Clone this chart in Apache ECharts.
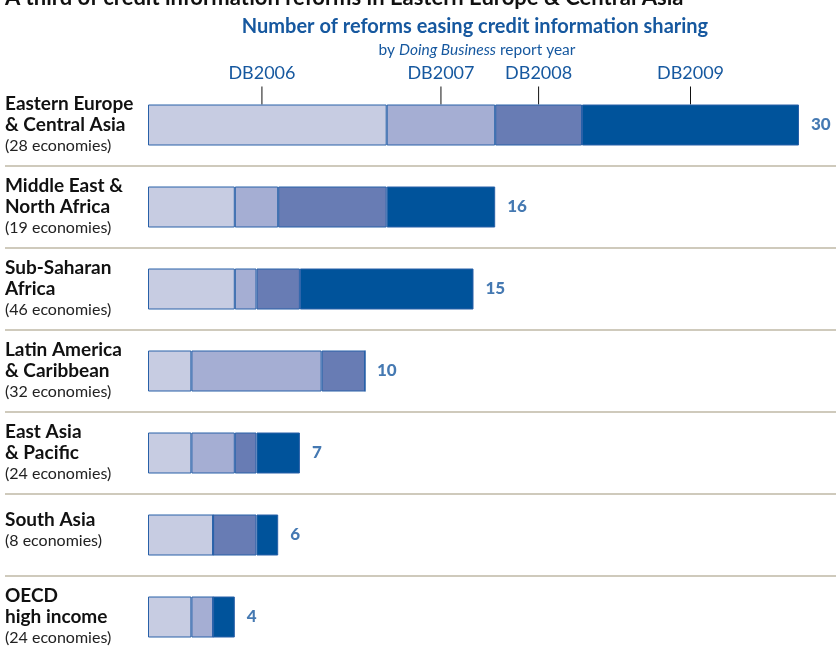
<!DOCTYPE html>
<html>
<head>
<meta charset="utf-8">
<script src="https://cdn.jsdelivr.net/npm/echarts@6/dist/echarts.min.js"></script>
<style>
  html, body { margin: 0; padding: 0; background: #fff; }
  #chart { width: 836px; height: 649px; }
</style>
</head>
<body>
<div id="chart"></div>
<script>
// regions, top to bottom
var regions = ['Eastern Europe\n& Central Asia', 'Middle East &\nNorth Africa', 'Sub-Saharan\nAfrica',
  'Latin America\n& Caribbean', 'East Asia\n& Pacific', 'South Asia', 'OECD\nhigh income'];
var economies = [28, 19, 46, 32, 24, 8, 24];

// reforms per report year
var db2006 = [11, 4, 4, 2, 2, 3, 2];
var db2007 = [5, 2, 1, 6, 2, 0, 1];
var db2008 = [4, 5, 2, 2, 1, 2, 0];
var db2009 = [10, 5, 8, 0, 2, 1, 1];

var yearNames = ['DB2006', 'DB2007', 'DB2008', 'DB2009'];
var yearMarks = [5.25, 13.5, 18, 25]; // where the year callouts point on the first bar
var colors = ['#c7cce2', '#a5aed3', '#687cb4', '#00539b'];

var blue = '#16589f';
var font = 'Lato';

var totals = regions.map(function (r, i) {
  return db2006[i] + db2007[i] + db2008[i] + db2009[i];
});

function barSeries(name, data, i) {
  return {
    name: name,
    type: 'bar',
    stack: 'total',
    barWidth: 41,
    xAxisIndex: 0,
    yAxisIndex: 0,
    itemStyle: { color: colors[i], borderColor: '#2860a8', borderWidth: 1 },
    emphasis: { disabled: true },
    data: data
  };
}

var chart = echarts.init(document.getElementById('chart'));

var option = {
  animation: false,
  textStyle: { fontFamily: font },
  title: [
    {
      text: 'A third of credit information reforms in Eastern Europe & Central Asia',
      left: 0, top: -18,
      textStyle: { fontFamily: font, fontSize: 22, fontWeight: 'bold', color: '#111' }
    },
    {
      text: 'Number of reforms easing credit information sharing',
      left: 470, top: 12, textAlign: 'center',
      textStyle: { fontFamily: font, fontSize: 20, fontWeight: 'bold', color: blue }
    },
    {
      text: 'by {i|Doing Business} report year',
      left: 472, top: 37, textAlign: 'center',
      textStyle: {
        fontFamily: font, fontSize: 15.5, fontWeight: 'normal', color: blue,
        rich: { i: { fontFamily: font, fontSize: 15.5, fontStyle: 'italic', color: blue } }
      }
    }
  ],
  grid: [
    { left: 148, right: 37, top: 84, height: 574, outerBoundsMode: 'none' },
    { left: 5, right: 0, top: 84, height: 574, outerBoundsMode: 'none' }
  ],
  xAxis: [
    { type: 'value', gridIndex: 0, min: 0, max: 30, show: false },
    { type: 'value', gridIndex: 1, min: 0, max: 1, show: false }
  ],
  yAxis: [
    {
      type: 'category', gridIndex: 0, inverse: true, data: regions,
      axisLine: { show: false }, axisTick: { show: false }, splitLine: { show: false },
      axisLabel: {
        align: 'left', margin: 143,
        formatter: function (v, i) {
          var lines = v.split('\n').map(function (s) { return '{b|' + s + '}'; });
          lines.push('{s|(' + economies[i] + ' economies)}');
          // short labels sit a little high in their row
          if (lines.length < 3) lines.push('{g|}');
          return lines.join('\n');
        },
        rich: {
          b: { fontFamily: font, fontSize: 19, fontWeight: 'bold', color: '#111', lineHeight: 21 },
          s: { fontFamily: font, fontSize: 16, color: '#222', lineHeight: 21 },
          g: { fontSize: 1, lineHeight: 9 }
        }
      }
    },
    {
      type: 'category', gridIndex: 1, inverse: true, data: regions,
      axisLine: { show: false }, axisTick: { show: false }, axisLabel: { show: false },
      splitLine: { show: true, showMinLine: false, showMaxLine: false, lineStyle: { color: '#cfcabc', width: 2 } }
    }
  ],
  series: [
    barSeries('DB2006', db2006, 0),
    barSeries('DB2007', db2007, 1),
    barSeries('DB2008', db2008, 2),
    barSeries('DB2009', db2009, 3),
    {
      type: 'scatter',
      xAxisIndex: 0, yAxisIndex: 0,
      symbolSize: 0,
      silent: true,
      label: {
        show: true, position: 'right', distance: 12,
        formatter: function (p) { return p.value[0]; },
        fontFamily: font, fontSize: 17, fontWeight: 900, color: blue
      },
      data: totals.map(function (t, i) { return [t, i]; })
    },
    {
      type: 'custom',
      xAxisIndex: 0, yAxisIndex: 0,
      silent: true,
      renderItem: function (params, api) {
        var p = api.coord([api.value(0), 0]);
        var barTop = p[1] - 20.5;
        return {
          type: 'group',
          children: [
            { type: 'line', shape: { x1: p[0], y1: barTop - 18, x2: p[0], y2: barTop },
              style: { stroke: '#111', lineWidth: 1 } },
            { type: 'text', x: p[0], y: barTop - 31,
              style: { text: yearNames[params.dataIndex], fill: blue, fontFamily: font, fontSize: 18,
                align: 'center', verticalAlign: 'middle' } }
          ]
        };
      },
      data: yearMarks.map(function (x) { return [x, 0]; })
    }
  ]
};

chart.setOption(option);
</script>
</body>
</html>
